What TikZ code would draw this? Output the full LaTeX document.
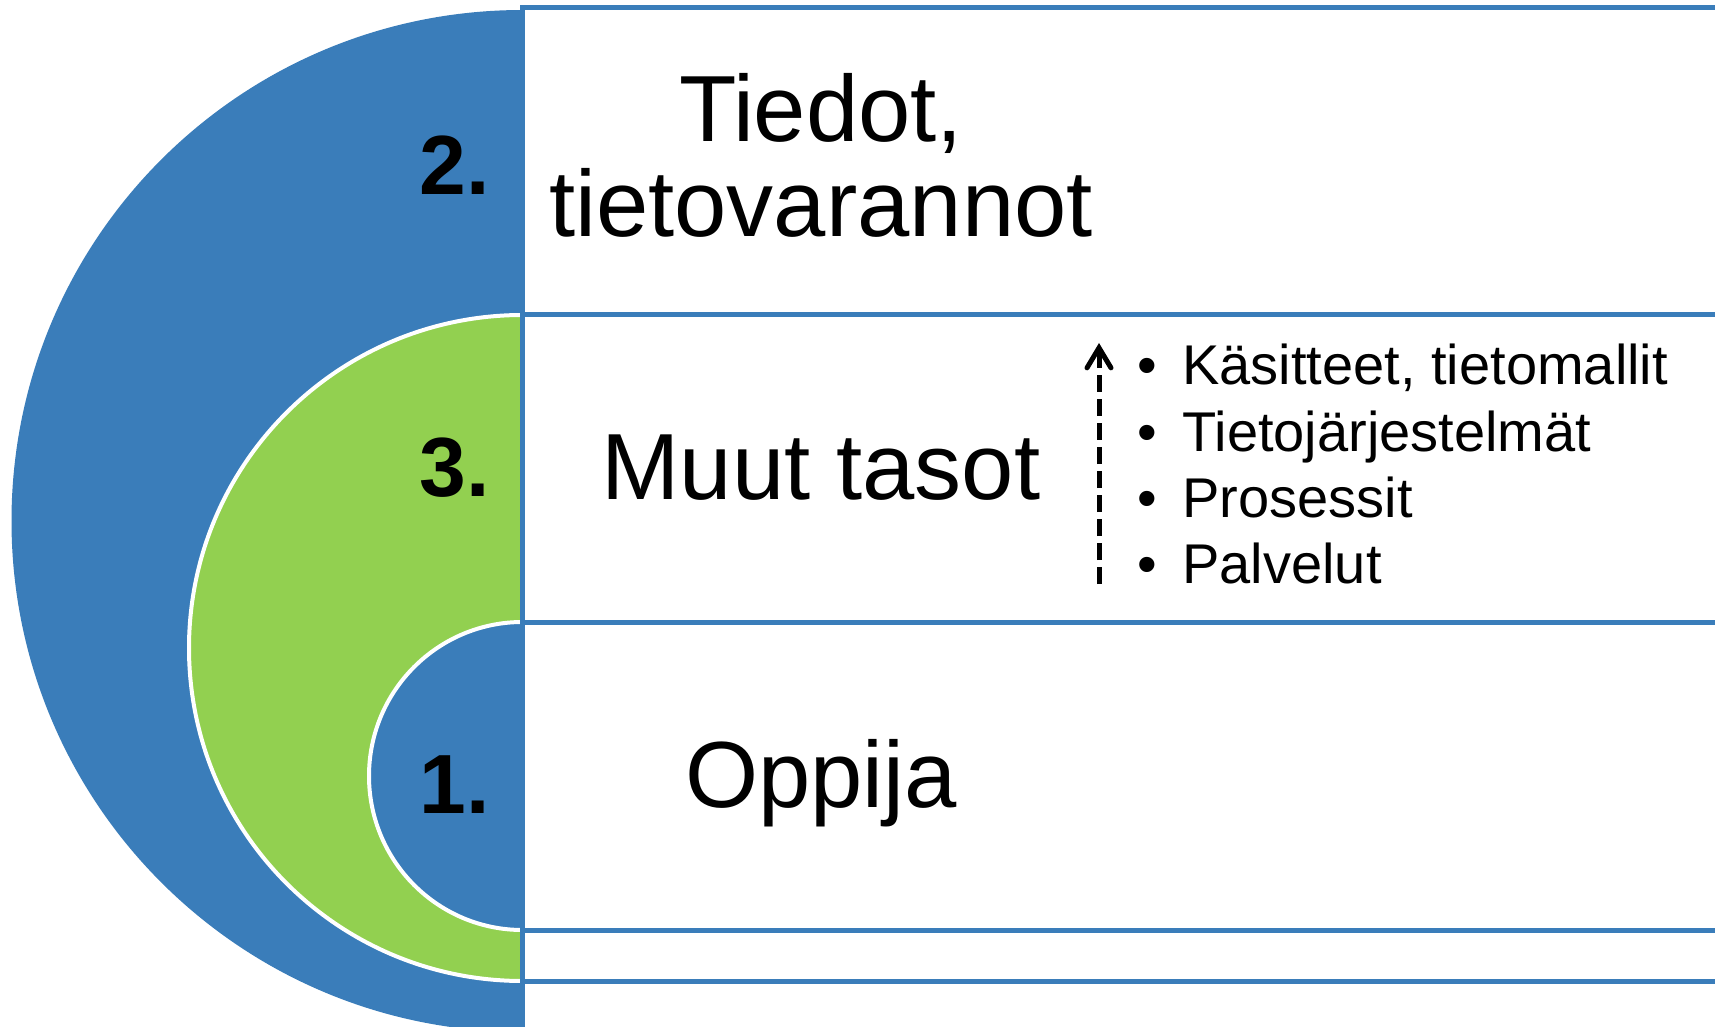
\documentclass[tikz,border=0pt]{standalone}
\usepackage{fontspec}
\setmainfont{Liberation Sans}
\usetikzlibrary{arrows.meta}

\definecolor{ringblue}{HTML}{3A7DBA}
\definecolor{ringgreen}{HTML}{92D050}

\begin{document}
\begin{tikzpicture}[x=0.5pt,y=-0.5pt,inner sep=0pt,
    >={Straight Barb[length=10pt,width=12pt,line cap=round]}]
  \tikzstyle{band}=[draw=ringblue,line width=2.5pt,fill=white]
  \tikzstyle{ring}=[fill=ringblue,draw=white,line width=2pt]
  \tikzstyle{num}=[font=\fontsize{42}{42}\selectfont\bfseries,anchor=base east]
  \tikzstyle{title}=[font=\fontsize{47}{47.5}\selectfont,anchor=base,align=center]
  \tikzstyle{item}=[font=\fontsize{28}{28}\selectfont,anchor=base west]

  \clip (0,0) rectangle (1715,1027);

  % 2. outer ring
  \fill[ringblue] (522.5,521) ellipse [x radius=511,y radius=511];
  \draw[band] (522.5,7.5) rectangle (1760,1045);
  % 3. middle ring
  \filldraw[ring,fill=ringgreen] (522.5,648) ellipse [x radius=333.5,y radius=333];
  \draw[band] (522.5,314.5) rectangle (1760,981);
  % 1. inner ring
  \filldraw[ring] (522.5,776) ellipse [x radius=153.5,y radius=154];
  \draw[band] (522.5,622.5) rectangle (1760,930.5);

  \node[num] (n2) at (490,194.5) {2.};
  \node[num] (n3) at (490,496) {3.};
  \node[num] (n1) at (490,813) {1.};

  \node[title,anchor=north] (tiedot) at (821,73) {Tiedot,\\tietovarannot};
  \node[title] (muut)   at (821,500) {Muut tasot};
  \node[title] (oppija) at (821,807) {Oppija};

  \foreach \t [count=\i from 0] in {{Käsitteet, tietomallit},Tietojärjestelmät,Prosessit,Palvelut}
    \node[item] (item\i) at (1137,{385+66.3*\i}) {\textbullet\hspace{12.7pt}\t};

  \coordinate (arrlo) at (1099,584);
  \coordinate (arrhi) at (1099,343);
  \draw[->,line width=2.5pt,dash pattern=on 8.5pt off 3.5pt] (arrlo) -- (arrhi);
\end{tikzpicture}
\end{document}
